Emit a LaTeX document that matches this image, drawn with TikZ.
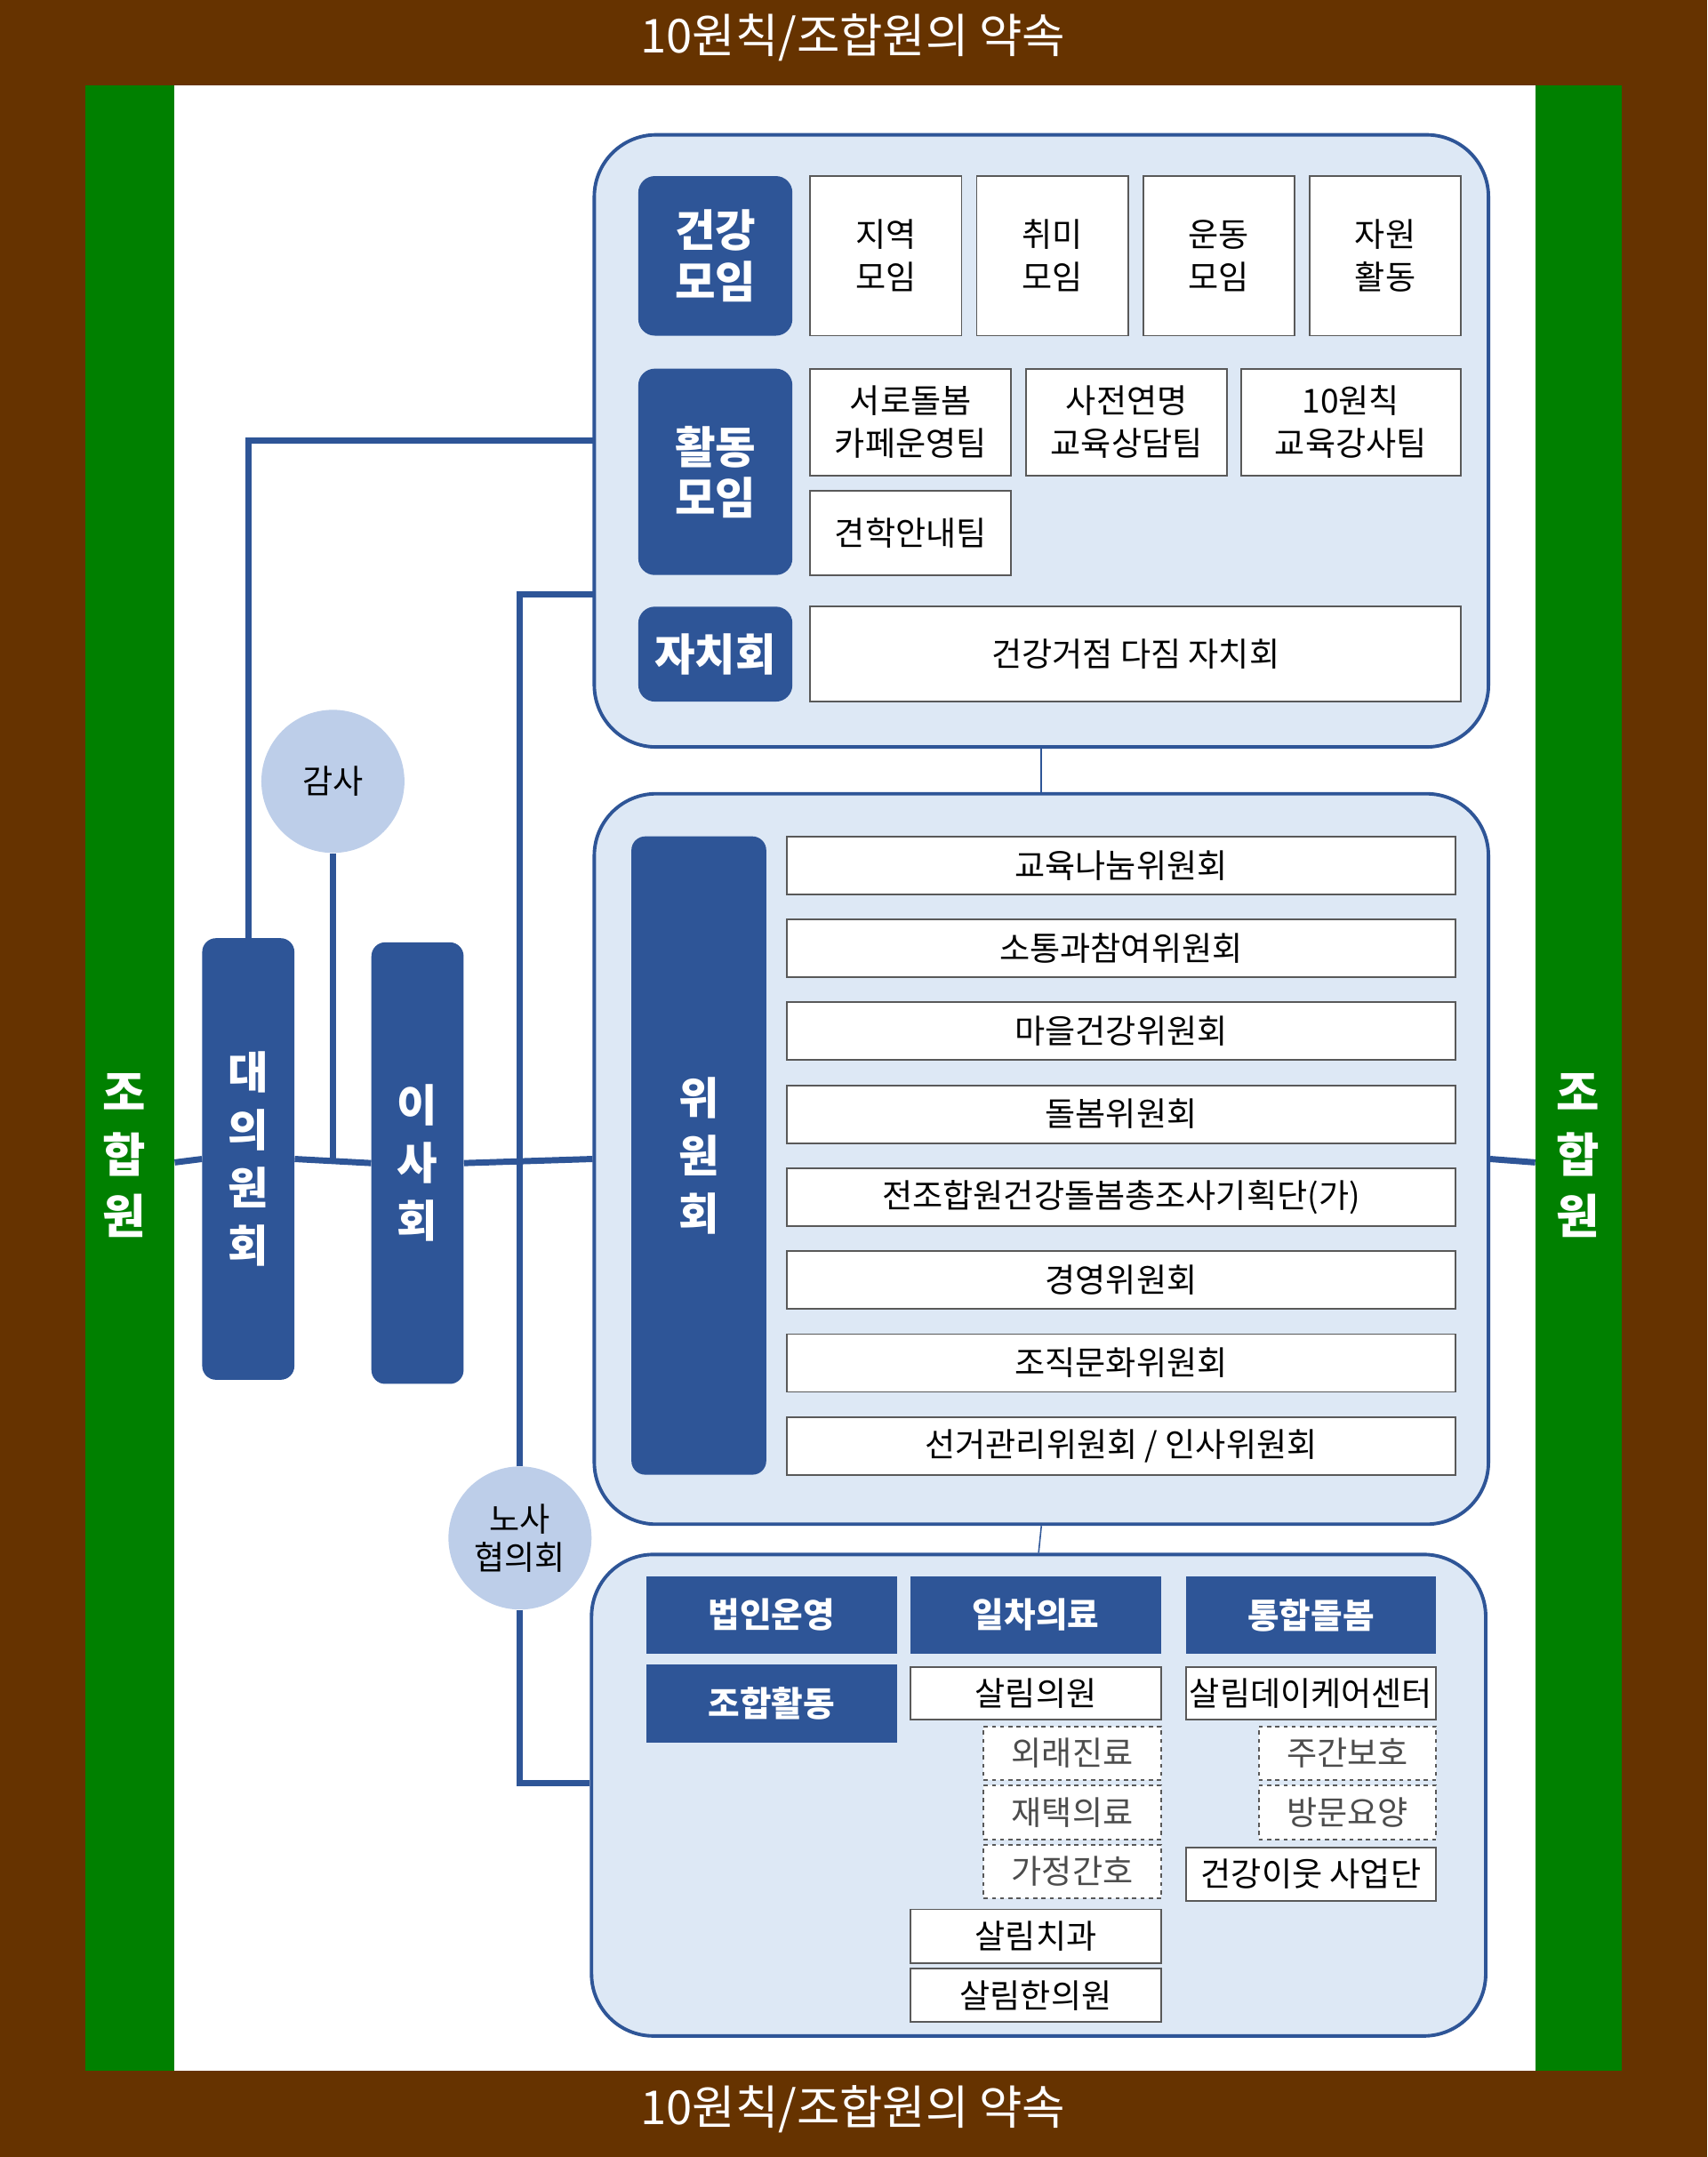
\documentclass[tikz,border=0pt]{standalone}
\usepackage{fontspec}
\setmainfont{Noto Sans CJK KR}
\usetikzlibrary{positioning}
\definecolor{brownbg}{HTML}{663300}
\definecolor{greenbar}{HTML}{008000}
\definecolor{navy}{HTML}{2E5597}
\definecolor{paneltint}{HTML}{DDE8F5}
\definecolor{circtint}{HTML}{BDCEE9}
\tikzset{
  panel/.style={draw=navy,line width=2.5pt,fill=paneltint,rounded corners=45pt},
  head/.style={fill=navy,text=white,font=\fontsize{32}{37}\selectfont\bfseries,rounded corners=12pt,align=center,inner sep=0pt},
  flathead/.style={fill=navy,text=white,font=\fontsize{25}{30}\selectfont\bfseries,inner sep=0pt},
  wbox/.style={draw=gray!70!black,line width=1.2pt,fill=white,font=\fontsize{24}{31}\selectfont,align=center,inner sep=0pt},
  dbox/.style={wbox,dashed,text=black!70},
  circ/.style={circle,fill=circtint,minimum size=104pt,inner sep=0pt,font=\fontsize{24}{28}\selectfont,align=center},
  tall/.style={fill=navy,text=white,rounded corners=10pt,font=\fontsize{32}{42}\selectfont\bfseries,align=center,inner sep=0pt},
  wire/.style={navy,line width=4.5pt},
  thin/.style={navy,line width=1pt},
}
\begin{document}
\begin{tikzpicture}[x=1pt,y=-1pt]
\useasboundingbox (0,0) rectangle (1241,1568);
\fill[brownbg] (0,0) rectangle (1241,1568);
\fill[white] (62,62) rectangle (1179,1505);
\fill[greenbar] (62,62) rectangle (127,1505);
\fill[greenbar] (1116,62) rectangle (1179,1505);

\node[text=white,font=\fontsize{34}{40}\selectfont] (ttop) at (620,27) {10원칙/조합원의 약속};
\node[text=white,font=\fontsize{34}{40}\selectfont] (tbot) at (620,1533) {10원칙/조합원의 약속};
\node[text=white,font=\fontsize{34}{45}\selectfont\bfseries,align=center] (memL) at (90,840) {조\\합\\원};
\node[text=white,font=\fontsize{34}{45}\selectfont\bfseries,align=center] (memR) at (1147,840) {조\\합\\원};

% panels
\node[panel,minimum width=650pt,minimum height=445pt] (P1) at (757,320.5) {};
\node[panel,minimum width=650pt,minimum height=531pt] (P2) at (757,842.5) {};
\node[panel,minimum width=650pt,minimum height=350pt] (P3) at (755,1305) {};
\draw[thin] (P1.south) -- (P2.north);
\draw[thin] (P2.south) -- (P3.north);

% panel 1
\node[head,minimum width=112pt,minimum height=116pt] (H1) at (520,186) {건강\\모임};
\node[head,minimum width=112pt,minimum height=150pt] (H2) at (520,343) {활동\\모임};
\node[head,minimum width=112pt,minimum height=69pt] (H3) at (520,475.5) {자치회};
\node[wbox,minimum width=110pt,minimum height=116pt] (g1) at (644,186) {지역\\모임};
\node[wbox,minimum width=110pt,minimum height=116pt] (g2) at (765,186) {취미\\모임};
\node[wbox,minimum width=110pt,minimum height=116pt] (g3) at (886,186) {운동\\모임};
\node[wbox,minimum width=110pt,minimum height=116pt] (g4) at (1007,186) {자원\\활동};
\node[wbox,minimum width=146pt,minimum height=78pt] (a1) at (662,307) {서로돌봄\\카페운영팀};
\node[wbox,minimum width=146pt,minimum height=78pt] (a2) at (819,307) {사전연명\\교육상담팀};
\node[wbox,minimum width=160pt,minimum height=78pt] (a3) at (982,307) {10원칙\\교육강사팀};
\node[wbox,minimum width=146pt,minimum height=61pt] (a4) at (662,387.5) {견학안내팀};
\node[wbox,minimum width=473pt,minimum height=69pt] (s1) at (825.5,475.5) {건강거점 다짐 자치회};

% panel 2
\node[tall,minimum width=98pt,minimum height=464pt] (H4) at (508,840) {위\\원\\회};
\foreach \t [count=\i from 0] in {교육나눔위원회,소통과참여위원회,마을건강위원회,돌봄위원회,전조합원건강돌봄총조사기획단(가),경영위원회,조직문화위원회,선거관리위원회 / 인사위원회}
  \node[wbox,minimum width=486pt,minimum height=42pt] (c\i) at (815,629+60.3*\i) {\t};

% panel 3
\node[flathead,minimum width=182pt,minimum height=56pt] (b1) at (561,1174) {법인운영};
\node[flathead,minimum width=182pt,minimum height=56pt] (b2) at (753,1174) {일차의료};
\node[flathead,minimum width=182pt,minimum height=56pt] (b3) at (953,1174) {통합돌봄};
\node[flathead,minimum width=182pt,minimum height=57pt] (b4) at (561,1238.5) {조합활동};
\node[wbox,minimum width=182pt,minimum height=38pt] (m1) at (753,1231) {살림의원};
\node[dbox,minimum width=129pt,minimum height=39pt] (m2) at (779.5,1274.5) {외래진료};
\node[dbox,minimum width=129pt,minimum height=39pt] (m3) at (779.5,1317.5) {재택의료};
\node[dbox,minimum width=129pt,minimum height=39pt] (m4) at (779.5,1360.5) {가정간호};
\node[wbox,minimum width=182pt,minimum height=39pt] (m5) at (753,1407.5) {살림치과};
\node[wbox,minimum width=182pt,minimum height=39pt] (m6) at (753,1450.5) {살림한의원};
\node[wbox,minimum width=182pt,minimum height=38pt] (n1) at (953,1231) {살림데이케어센터};
\node[dbox,minimum width=129pt,minimum height=39pt] (n2) at (979.5,1274.5) {주간보호};
\node[dbox,minimum width=129pt,minimum height=39pt] (n3) at (979.5,1317.5) {방문요양};
\node[wbox,minimum width=182pt,minimum height=39pt] (n4) at (953,1362.5) {건강이웃 사업단};

% governance
\node[tall,minimum width=67pt,minimum height=321pt] (rep) at (180.5,842.5) {대\\의\\원\\회};
\node[tall,minimum width=67pt,minimum height=321pt] (board) at (303.5,845.5) {이\\사\\회};
\node[circ] (audit) at (242,568) {감사};
\node[circ] (labor) at (378,1118) {노사\\협의회};

\coordinate (jL) at (127,845);
\coordinate (jA) at (242,845);
\coordinate (jB) at (378,845);
\draw[wire] (jL) -- (rep.west);
\draw[wire] (rep.east) -- (board.west);
\draw[wire] (audit.south) -- (jA);
\draw[wire] (board.east) -- (P2.west);
\draw[wire] (P2.east) -- (1116,845);
\draw[wire] (rep.north) |- (432,320);
\draw[wire] (labor.north) -- (378,432) -- (432,432);
\draw[wire] (labor.south) |- (P3.west |- 0,1296);
\end{tikzpicture}
\end{document}
